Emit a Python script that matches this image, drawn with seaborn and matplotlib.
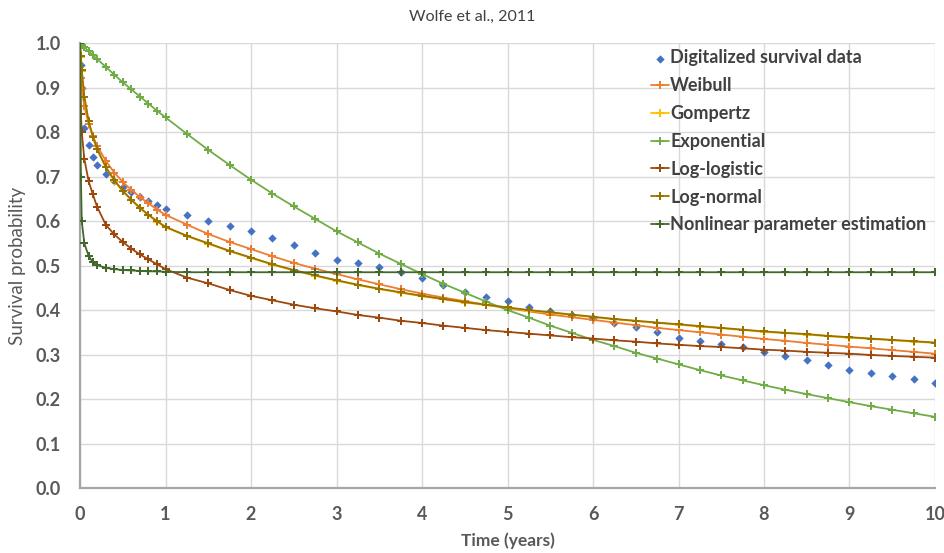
import pandas as pd
import matplotlib
matplotlib.use("Agg")
import matplotlib.pyplot as plt
import seaborn as sns

# time points (years)
time = [0, 0.01, 0.02, 0.05, 0.1, 0.15, 0.2, 0.3, 0.4, 0.5, 0.6, 0.7, 0.8, 0.9, 1.0,
        1.25, 1.5, 1.75, 2.0, 2.25, 2.5, 2.75, 3.0, 3.25, 3.5, 3.75, 4.0, 4.25, 4.5, 4.75,
        5.0, 5.25, 5.5, 5.75, 6.0, 6.25, 6.5, 6.75, 7.0, 7.25, 7.5, 7.75, 8.0, 8.25, 8.5,
        8.75, 9.0, 9.25, 9.5, 9.75, 10.0]

digitalized = [1.0, 0.95, 0.90, 0.81, 0.77, 0.745, 0.725, 0.705, 0.69, 0.677, 0.665, 0.655, 0.645, 0.636, 0.628,
               0.614, 0.600, 0.588, 0.578, 0.562, 0.546, 0.528, 0.512, 0.505, 0.497, 0.486, 0.472, 0.457, 0.441, 0.430,
               0.420, 0.408, 0.398, 0.390, 0.382, 0.372, 0.362, 0.350, 0.337, 0.330, 0.324, 0.318, 0.306, 0.297, 0.288,
               0.276, 0.265, 0.258, 0.252, 0.244, 0.237]
weibull = [1.0, 0.922, 0.899, 0.858, 0.819, 0.791, 0.769, 0.736, 0.709, 0.688, 0.670, 0.654, 0.640, 0.626, 0.614,
           0.592, 0.571, 0.553, 0.537, 0.521, 0.506, 0.493, 0.481, 0.469, 0.458, 0.447, 0.437, 0.428, 0.420, 0.412,
           0.404, 0.397, 0.390, 0.384, 0.378, 0.372, 0.366, 0.360, 0.355, 0.350, 0.345, 0.340, 0.335, 0.331, 0.326,
           0.322, 0.318, 0.314, 0.310, 0.306, 0.302]
gompertz = [1.0, 0.968, 0.938, 0.878, 0.824, 0.789, 0.761, 0.721, 0.691, 0.667, 0.647, 0.629, 0.613, 0.599, 0.586,
            0.566, 0.549, 0.532, 0.517, 0.502, 0.489, 0.477, 0.466, 0.456, 0.447, 0.439, 0.431, 0.424, 0.417, 0.411,
            0.405, 0.399, 0.394, 0.389, 0.384, 0.379, 0.375, 0.371, 0.367, 0.363, 0.359, 0.355, 0.351, 0.348, 0.345,
            0.341, 0.338, 0.335, 0.332, 0.329, 0.326]
exponential = [1.0, 0.998, 0.996, 0.991, 0.982, 0.973, 0.964, 0.947, 0.929, 0.912, 0.896, 0.880, 0.864, 0.848, 0.833,
               0.796, 0.760, 0.726, 0.693, 0.662, 0.633, 0.605, 0.577, 0.552, 0.527, 0.504, 0.481, 0.459, 0.439, 0.419,
               0.400, 0.383, 0.365, 0.349, 0.333, 0.319, 0.304, 0.291, 0.278, 0.265, 0.253, 0.242, 0.231, 0.221, 0.211,
               0.202, 0.193, 0.184, 0.176, 0.168, 0.160]
log_logistic = [1.0, 0.84, 0.80, 0.74, 0.69, 0.66, 0.632, 0.592, 0.570, 0.553, 0.538, 0.525, 0.514, 0.503, 0.492,
                0.473, 0.460, 0.445, 0.432, 0.422, 0.412, 0.404, 0.397, 0.389, 0.383, 0.376, 0.371, 0.365, 0.360, 0.355,
                0.351, 0.347, 0.343, 0.339, 0.336, 0.332, 0.329, 0.325, 0.322, 0.319, 0.317, 0.314, 0.311, 0.309, 0.306,
                0.304, 0.302, 0.299, 0.297, 0.295, 0.293]
log_normal = [1.0, 0.97, 0.94, 0.88, 0.825, 0.79, 0.762, 0.722, 0.692, 0.668, 0.648, 0.630, 0.614, 0.600, 0.587,
              0.567, 0.550, 0.533, 0.518, 0.503, 0.490, 0.478, 0.467, 0.457, 0.448, 0.440, 0.432, 0.425, 0.418, 0.412,
              0.406, 0.400, 0.395, 0.390, 0.385, 0.380, 0.376, 0.372, 0.368, 0.364, 0.360, 0.356, 0.352, 0.349, 0.346,
              0.342, 0.339, 0.336, 0.333, 0.330, 0.327]
nonlinear = [1.0, 0.70, 0.60, 0.55, 0.522, 0.507, 0.501, 0.495, 0.492, 0.490, 0.489, 0.488, 0.487, 0.487, 0.486,
             0.485, 0.485, 0.485, 0.485, 0.485, 0.485, 0.485, 0.485, 0.485, 0.485, 0.485, 0.485, 0.485, 0.485, 0.485,
             0.485, 0.485, 0.485, 0.485, 0.485, 0.485, 0.485, 0.485, 0.485, 0.485, 0.485, 0.485, 0.485, 0.485, 0.485,
             0.485, 0.485, 0.485, 0.485, 0.485, 0.485]

xticks = list(range(0, 11))
yticks = [0.0, 0.1, 0.2, 0.3, 0.4, 0.5, 0.6, 0.7, 0.8, 0.9, 1.0]

sns.set_theme(style="whitegrid")
plt.rcParams['font.family'] = ['Lato', 'DejaVu Sans']

fig, ax = plt.subplots(figsize=(9.45, 5.53), dpi=100)
fig.subplots_adjust(left=0.0847, right=0.9894, bottom=0.1175, top=0.922)

# digitalized data: markers only
sns.scatterplot(ax=ax, x=time, y=digitalized, color='#4472C4', marker='D', s=18,
                edgecolor='#4472C4', linewidth=0, label='Digitalized survival data', zorder=3)

models = [('Weibull', weibull, '#ED7D31'),
          ('Gompertz', gompertz, '#FFC000'),
          ('Exponential', exponential, '#70AD47'),
          ('Log-logistic', log_logistic, '#9E480E'),
          ('Log-normal', log_normal, '#997300'),
          ('Nonlinear parameter estimation', nonlinear, '#43682B')]
for name, vals, col in models:
    sns.lineplot(ax=ax, x=time, y=vals, color=col, marker='P', markersize=5.5,
                 markeredgewidth=0, linewidth=1.3, label=name, sort=False, zorder=3)

ax.set_xlim(0, 10)
ax.set_ylim(0, 1.0)
ax.set_xticks(xticks)
ax.set_yticks(yticks)
ax.set_yticklabels([f"{v:.1f}" for v in yticks])
ax.grid(True, color='#D9D9D9', linewidth=1.0)
ax.tick_params(axis='y', length=0, labelsize=13, labelcolor='#595959', pad=14)
ax.tick_params(axis='x', length=0, labelsize=13, labelcolor='#595959', pad=13)
for lbl in ax.get_xticklabels() + ax.get_yticklabels():
    lbl.set_fontweight('bold')
for side in ['top', 'right']:
    ax.spines[side].set_visible(False)
for side in ['left', 'bottom']:
    ax.spines[side].set_color('#A6A6A6')
    ax.spines[side].set_linewidth(1.6)

ax.set_xlabel('Time (years)', fontsize=12.5, fontweight='bold', color='#595959', labelpad=7)
ax.set_ylabel('Survival probability', fontsize=13.5, color='#595959', labelpad=7)
fig.suptitle('Wolfe et al., 2011', x=0.5, y=0.982, fontsize=11.5, color='#404040')

leg = ax.legend(loc='upper left', bbox_to_anchor=(0.666, 0.99), frameon=False,
                borderaxespad=0, borderpad=0.1, handlelength=1.0, handletextpad=0.05,
                labelspacing=0.6, fontsize=13)
for t in leg.get_texts():
    t.set_color('#404040')
    t.set_fontweight('bold')

fig.savefig('out.png', dpi=100)
